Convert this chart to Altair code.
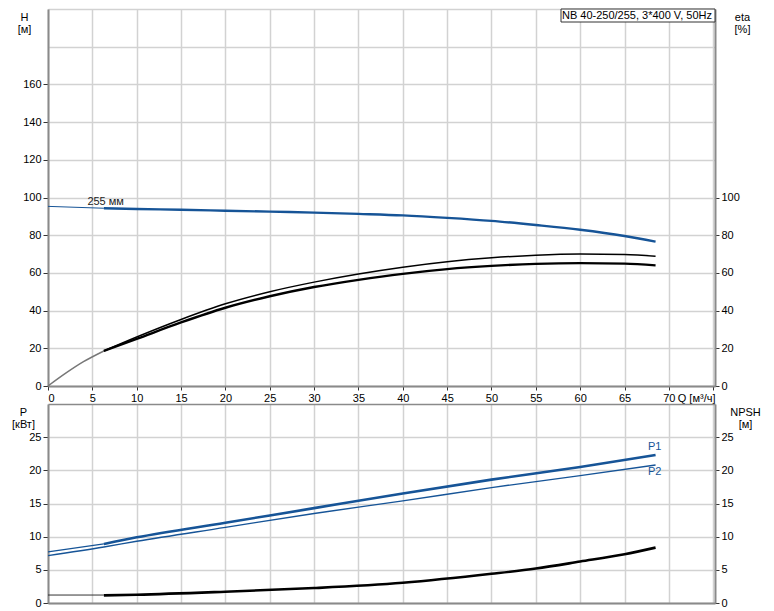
import altair as alt
import pandas as pd

# ---------------- data ----------------
# Top panel: head H [m] (255 mm impeller)
h_thin_q = [0, 6.3]
h_thin_v = [95.3, 94.3]
h_q = [6.3, 10, 15, 20, 25, 30, 35, 40, 45, 50, 55, 60, 65, 68.5]
h_v = [94.3, 93.9, 93.5, 93.0, 92.5, 92.0, 91.3, 90.5, 89.2, 87.6, 85.4, 82.9, 79.6, 76.6]

# Top panel: efficiency eta [%]
eta_thin_q = [0, 2, 4, 6.3]
eta_thin_v = [0, 6.8, 12.9, 18.6]
eta_q = [6.3, 10, 15, 20, 25, 30, 35, 40, 45, 50, 55, 60, 65, 68.5]
eta1_v = [18.6, 26.0, 35.3, 43.6, 50.0, 55.1, 59.4, 63.0, 65.9, 68.0, 69.4, 70.0, 69.7, 68.8]
eta2_v = [18.6, 25.0, 33.7, 41.5, 47.6, 52.5, 56.3, 59.5, 62.0, 63.7, 64.8, 65.2, 64.9, 64.0]

# Bottom panel: power P1 / P2 [kW]
p1_thin_q = [0, 6.3]
p1_thin_v = [7.7, 8.9]
p1_q = [6.3, 10, 20, 30, 40, 50, 60, 68.5]
p1_v = [8.9, 9.9, 12.1, 14.3, 16.5, 18.6, 20.5, 22.3]
p2_q = [0, 6.3, 10, 20, 30, 40, 50, 60, 68.5]
p2_v = [7.15, 8.45, 9.3, 11.4, 13.5, 15.4, 17.4, 19.2, 20.8]

# Bottom panel: NPSH [m]
npsh_thin_q = [0, 6.3]
npsh_thin_v = [1.2, 1.2]
npsh_q = [6.3, 10, 20, 30, 40, 50, 55, 60, 65, 68.5]
npsh_v = [1.15, 1.25, 1.7, 2.25, 3.05, 4.4, 5.2, 6.25, 7.35, 8.35]

# Labels
h_label = ["255 мм"]
h_label_q = [6.5]
h_label_v = [97.4]
p_labels = ["P1", "P2"]
p_labels_q = [68.4, 68.4]
p_labels_v = [23.5, 19.7]
box_title = ["NB 40-250/255, 3*400 V, 50Hz"]

x_ticks = list(range(0, 76, 5))
h_ticks = list(range(0, 201, 20))
eta_ticks = list(range(0, 101, 20))
p_ticks = list(range(0, 31, 5))
npsh_ticks = list(range(0, 26, 5))

# ---------------- styling ----------------
BLUE = "#165497"
FONT = "Liberation Sans"
GRID = "#d2d2d2"
W = 667
H_TOP = 377
H_BOT = 199
XMAX = 75.2
BOX_W = 154


def frame(q, v):
    return pd.DataFrame({"Q": q, "v": v})


xscale = alt.Scale(domain=[0, XMAX], nice=False, zero=False)

x_top = alt.X(
    "Q:Q", scale=xscale,
    axis=alt.Axis(values=x_ticks, labelExpr="datum.value == 75 ? '' : datum.label",
                  title="Q [м³/ч]", titleX=W, titleY=6, titleAlign="right",
                  titleBaseline="top", tickSize=4, labelPadding=2, grid=True),
)
x_bot = alt.X(
    "Q:Q", scale=xscale,
    axis=alt.Axis(values=x_ticks, labels=False, ticks=False, title=None, grid=True),
)

y_h = alt.Y(
    "v:Q", scale=alt.Scale(domain=[0, 200], nice=False),
    axis=alt.Axis(orient="left", values=h_ticks,
                  labelExpr="datum.value > 160 ? '' : datum.label",
                  tickOpacity={"condition": {"test": "datum.value > 160", "value": 0}, "value": 1},
                  title=["H", "[м]"], titleAngle=0, titleAlign="center", titleBaseline="top",
                  titleX=-24, titleY=2, titleLineHeight=12, tickSize=5, labelPadding=2, grid=True),
)
y_eta = alt.Y(
    "v:Q", scale=alt.Scale(domain=[0, 200], nice=False),
    axis=alt.Axis(orient="right", values=eta_ticks,
                  title=["eta", "[%]"], titleAngle=0, titleAlign="center", titleBaseline="top",
                  titleX=27, titleY=2, titleLineHeight=12, tickSize=4, labelPadding=2, grid=False),
)
y_p = alt.Y(
    "v:Q", scale=alt.Scale(domain=[0, 30], nice=False),
    axis=alt.Axis(orient="left", values=p_ticks,
                  labelExpr="datum.value > 25 ? '' : datum.label",
                  tickOpacity={"condition": {"test": "datum.value > 25", "value": 0}, "value": 1},
                  gridColor={"condition": {"test": "datum.value == 30", "value": "#8a8a8a"}, "value": GRID},
                  title=["P", "[кВт]"], titleAngle=0, titleAlign="center", titleBaseline="top",
                  titleX=-25, titleY=2, titleLineHeight=12, tickSize=5, labelPadding=2, grid=True),
)
y_npsh = alt.Y(
    "v:Q", scale=alt.Scale(domain=[0, 30], nice=False),
    axis=alt.Axis(orient="right", values=npsh_ticks,
                  title=["NPSH", "[м]"], titleAngle=0, titleAlign="center", titleBaseline="top",
                  titleX=30, titleY=2, titleLineHeight=12, tickSize=4, labelPadding=2, grid=False),
)


def line(q, v, x, y, color, width):
    return alt.Chart(frame(q, v)).mark_line(
        color=color, strokeWidth=width, interpolate="monotone"
    ).encode(x=x, y=y)


# ---------------- top panel ----------------
h_text = alt.Chart(pd.DataFrame({"Q": h_label_q, "v": h_label_v, "t": h_label})).mark_text(
    font=FONT, fontSize=11, color="#222222", align="center", baseline="middle"
).encode(x=x_top, y=y_h, text="t:N")

box_df = pd.DataFrame({"t": box_title})
box_rect = alt.Chart(box_df).mark_rect(fill="white", stroke="#333333", strokeWidth=1).encode(
    x=alt.value(W - BOX_W), x2=alt.value(W), y=alt.value(0), y2=alt.value(13)
)
box_text = alt.Chart(box_df).mark_text(
    font=FONT, fontSize=11, color="#000000", align="right", baseline="middle"
).encode(x=alt.value(W - 3), y=alt.value(7), text="t:N")

left_top = alt.layer(
    line(h_thin_q, h_thin_v, x_top, y_h, BLUE, 1),
    line(h_q, h_v, x_top, y_h, BLUE, 2.4),
    h_text,
    box_rect,
    box_text,
)
right_top = alt.layer(
    line(eta_thin_q, eta_thin_v, x_top, y_eta, "#777777", 1.5),
    line(eta_q, eta1_v, x_top, y_eta, "#000000", 1.5),
    line(eta_q, eta2_v, x_top, y_eta, "#000000", 2.4),
)
top = alt.layer(left_top, right_top).resolve_scale(y="independent").properties(
    width=W, height=H_TOP
)

# ---------------- bottom panel ----------------
p_text = alt.Chart(pd.DataFrame({"Q": p_labels_q, "v": p_labels_v, "t": p_labels})).mark_text(
    font=FONT, fontSize=11, color=BLUE, align="center", baseline="middle"
).encode(x=x_bot, y=y_p, text="t:N")

left_bot = alt.layer(
    line(p1_thin_q, p1_thin_v, x_bot, y_p, BLUE, 1.2),
    line(p1_q, p1_v, x_bot, y_p, BLUE, 2.6),
    line(p2_q, p2_v, x_bot, y_p, BLUE, 1.4),
    p_text,
)
right_bot = alt.layer(
    line(npsh_thin_q, npsh_thin_v, x_bot, y_npsh, "#333333", 1),
    line(npsh_q, npsh_v, x_bot, y_npsh, "#000000", 2.6),
)
bottom = alt.layer(left_bot, right_bot).resolve_scale(y="independent").properties(
    width=W, height=H_BOT
)

chart = alt.vconcat(top, bottom, spacing=18, bounds="flush").properties(
    padding={"left": 3, "top": 0, "right": 0, "bottom": 0}
).configure_axis(
    labelFont=FONT, labelFontSize=11, labelColor="#000000",
    titleFont=FONT, titleFontSize=11, titleFontWeight="normal", titleColor="#000000",
    domainColor="#8a8a8a", domainWidth=2, tickColor="#333333",
    gridColor=GRID, gridWidth=1.5,
).configure_view(strokeOpacity=0)

chart.save("out.html", embed_options={"renderer": "svg", "actions": False})
